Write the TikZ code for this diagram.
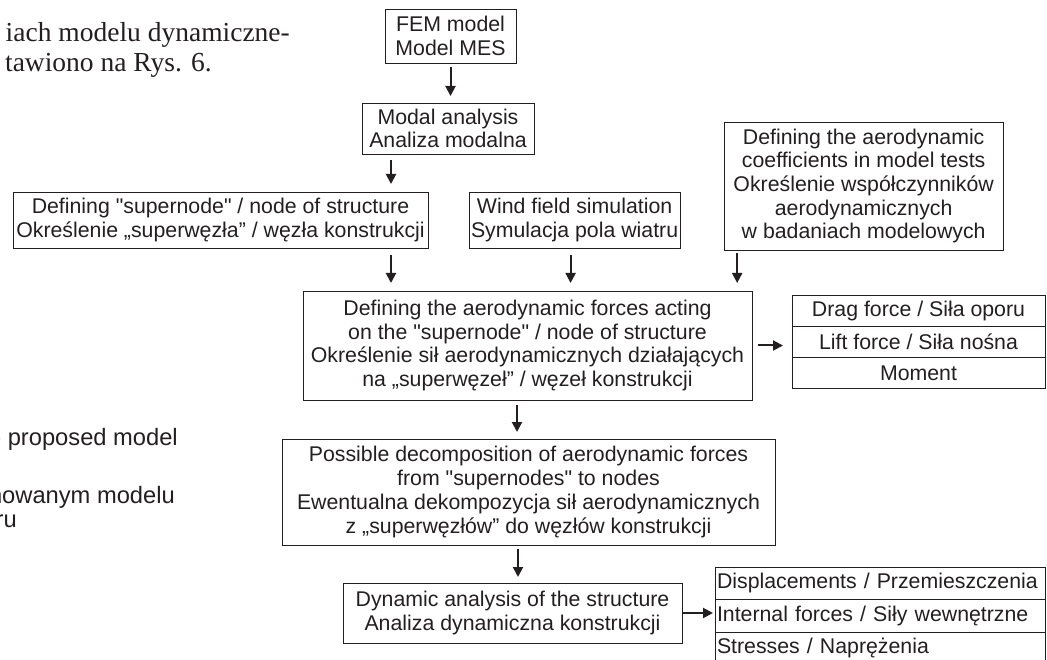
\documentclass[tikz,border=0pt]{standalone}
\usepackage{fontspec}
\setmainfont{Liberation Serif}
\setsansfont{Liberation Sans}
\usetikzlibrary{arrows.meta, positioning}
\definecolor{ink}{RGB}{35,31,32}
\newcommand{\sq}{\textquotedbl}
\tikzset{box/.style={rectangle,draw=ink,text=ink,line width=0.9pt,align=center,inner sep=2pt,outer sep=0pt,font=\sffamily\fontsize{21.3}{23.7}\selectfont},cell/.style={box,minimum height=31.3pt,minimum width=253pt},rcell/.style={box,minimum height=32.5pt,text width=326pt,align=left},line/.style={draw=ink,line width=2pt,-{Triangle[length=10pt,width=10pt]}},pagetext/.style={text=ink,inner sep=0pt,font=\rmfamily\fontsize{27.5}{30}\selectfont},captext/.style={text=ink,inner sep=0pt,font=\sffamily\fontsize{23.7}{26}\selectfont}}
\begin{document}
\begin{tikzpicture}[x=1pt,y=1pt]
\useasboundingbox (0,0) rectangle (1047,-660);
\clip (0,0) rectangle (1047,-660);
\node[pagetext, anchor=base east] (p1) at (290,-42) {iach modelu dynamiczne-};
\node[pagetext, anchor=base east] (p2) at (212,-72) {tawiono na Rys. 6.};
\node[captext, anchor=base east] (c1) at (178,-445) {e proposed model};
\node[captext, anchor=base east] (c2) at (175,-503) {nowanym modelu};
\node[captext, anchor=base east] (c3) at (17,-527) {ru};
\node[box, minimum width=131pt, minimum height=54pt] (fem) at (450.5,-36) {FEM model\\Model MES};
\node[box, minimum width=172pt, minimum height=51pt, below=40pt of fem, xshift=-2.5pt] (modal) {Modal analysis\\Analiza modalna};
\node[box, minimum width=415pt, minimum height=56pt, below=38pt of modal, xshift=-227.5pt] (super) {Defining \sq supernode\sq{} / node of structure\\Określenie „superwęzła” / węzła konstrukcji};
\node[box, minimum width=211pt, minimum height=56pt, right=41pt of super] (wind) {Wind field simulation\\Symulacja pola wiatru};
\node[box, minimum width=279pt, minimum height=128pt, anchor=south west] (coef) at ([xshift=44pt,yshift=-2pt]wind.south east) {Defining the aerodynamic\\coefficients in model tests\\Określenie współczynników\\aerodynamicznych\\w badaniach modelowych};
\node[box, minimum width=449pt, minimum height=109pt, below=43pt of super.south east, anchor=north west, xshift=-125pt] (aero) {Defining the aerodynamic forces acting\\on the \sq supernode\sq{} / node of structure\\Określenie sił aerodynamicznych działających\\na „superwęzeł” / węzeł konstrukcji};
\node[cell, anchor=north west] (drag) at ([xshift=40pt,yshift=-4pt]aero.north east) {Drag force / Siła oporu};
\node[cell, below=0pt of drag] (lift) {Lift force / Siła nośna};
\node[cell, below=0pt of lift] (moment) {Moment};
\node[box, minimum width=493pt, minimum height=106pt, below=39pt of aero, xshift=1pt] (decomp) {Possible decomposition of aerodynamic forces\\from \sq supernodes\sq{} to nodes\\Ewentualna dekompozycja sił aerodynamicznych\\z „superwęzłów” do węzłów konstrukcji};
\node[box, minimum width=339pt, minimum height=60pt, below=38pt of decomp, xshift=-16pt] (dyn) {Dynamic analysis of the structure\\Analiza dynamiczna konstrukcji};
\node[rcell, anchor=north west] (disp) at ([xshift=33pt,yshift=16pt]dyn.north east) {Displacements / Przemieszczenia};
\node[rcell, below=0pt of disp] (intf) {Internal forces / Siły wewnętrzne};
\node[rcell, below=0pt of intf] (stress) {Stresses / Naprężenia};
\draw[line, shorten <=4pt, shorten >=7pt] (fem.south) -- (fem.south |- modal.north);
\draw[line, shorten <=6pt, shorten >=8pt] ([xshift=29pt]modal.south west) -- ([xshift=29pt]modal.south west |- super.north);
\draw[line, shorten <=7pt, shorten >=8pt] ([xshift=-37pt]super.south east) -- ([xshift=-37pt]super.south east |- aero.north);
\draw[line, shorten <=7pt, shorten >=8pt] ([xshift=-4pt]wind.south) -- ([xshift=-4pt]wind.south |- aero.north);
\draw[line, shorten <=3pt, shorten >=8pt] ([xshift=13pt]coef.south west) -- ([xshift=13pt]coef.south west |- aero.north);
\draw[line, shorten <=6pt, shorten >=9pt] (aero.east) -- (aero.east -| lift.west);
\draw[line, shorten <=5pt, shorten >=7pt] ([xshift=-10.5pt]aero.south) -- ([xshift=-10.5pt]aero.south |- decomp.north);
\draw[line, shorten <=4pt, shorten >=6pt] ([xshift=-10.5pt]decomp.south) -- ([xshift=-10.5pt]decomp.south |- dyn.north);
\draw[line, shorten <=1pt, shorten >=2pt] (dyn.east) -- (dyn.east -| intf.west);
\end{tikzpicture}
\end{document}
